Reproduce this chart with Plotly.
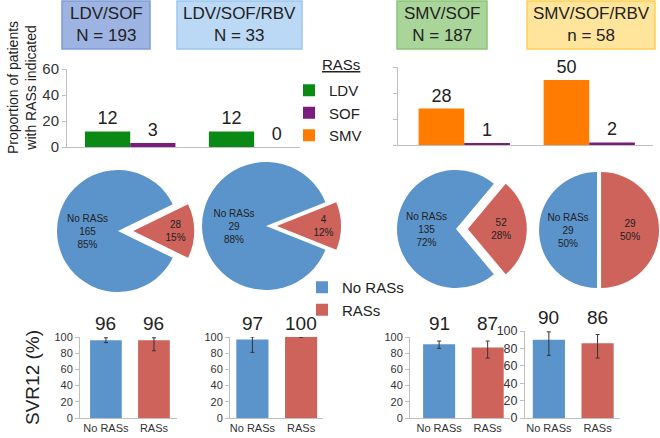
import plotly.graph_objects as go

# ---------------- data ----------------
regimens_ldv = ["LDV/SOF", "LDV/SOF/RBV"]
ldv_ras_pct = [12, 12]
sof_ras_pct_ldv = [3, 0]

regimens_smv = ["SMV/SOF", "SMV/SOF/RBV"]
smv_ras_pct = [28, 50]
sof_ras_pct_smv = [1, 2]

header_titles = ["LDV/SOF", "LDV/SOF/RBV", "SMV/SOF", "SMV/SOF/RBV"]
header_n = ["N = 193", "N = 33", "N = 187", "n = 58"]

pie_labels = ["No RASs", "RASs"]
no_ras_n = [165, 29, 135, 29]
ras_n = [28, 4, 52, 29]

svr_cats = ["No RASs", "RASs"]
svr_no_ras = [96, 97, 91, 90]
svr_ras = [96, 100, 87, 86]
svr_no_ras_lo = [93, 81, 86, 72]
svr_no_ras_hi = [99, 100, 95, 99]
svr_ras_lo = [83, 100, 74, 69]
svr_ras_hi = [99, 100, 95, 96]

# ---------------- styles / layout helpers ----------------
W, H = 660, 438
def fx(p): return p / W
def fy(p): return 1 - p / H

GREEN = "#0A8A14"
PURPLE = "#7B1B80"
ORANGE = "#FF7C00"
BLUE = "#5B93CB"
RED = "#CD635B"
AXIS = "#BFBFBF"
TXT = "#222222"
FONT = "Liberation Sans, Arial, sans-serif"

fig = go.Figure()

# top bar charts
fig.add_bar(x=regimens_ldv, y=ldv_ras_pct, name="LDV", marker_color=GREEN,
            text=ldv_ras_pct, textposition="outside", xaxis="x", yaxis="y")
fig.add_bar(x=regimens_ldv, y=sof_ras_pct_ldv, name="SOF", marker_color=PURPLE,
            text=sof_ras_pct_ldv, textposition="outside", xaxis="x", yaxis="y")
fig.add_bar(x=regimens_smv, y=smv_ras_pct, name="SMV", marker_color=ORANGE,
            text=smv_ras_pct, textposition="outside", xaxis="x2", yaxis="y2")
fig.add_bar(x=regimens_smv, y=sof_ras_pct_smv, name="SOF", marker_color=PURPLE,
            text=sof_ras_pct_smv, textposition="outside", showlegend=False,
            xaxis="x2", yaxis="y2")
fig.update_traces(selector=dict(type="bar"), textfont=dict(size=18, color=TXT),
                  cliponaxis=False, constraintext="none", marker_line_width=0)

# pies
pie_cx = [118, 266, 456, 597]
pie_cy = [231, 226, 229, 230]
pie_r = [61, 64, 59, 58]
pie_pull = [0.25, 0.17, 0.20, 0.07]
for i in range(4):
    tot = no_ras_n[i] + ras_n[i]
    frac = ras_n[i] / tot
    p_no = round(100 * no_ras_n[i] / tot)
    p_r = round(100 * ras_n[i] / tot)
    half = pie_r[i] * (1 + pie_pull[i])
    fig.add_pie(
        labels=pie_labels, values=[no_ras_n[i], ras_n[i]],
        text=[f"No RASs<br>{no_ras_n[i]}<br>{p_no}%", f"{ras_n[i]}<br>{p_r}%"],
        textinfo="text", textposition="inside", insidetextorientation="horizontal",
        insidetextfont=dict(size=10, color=TXT),
        sort=False, direction="clockwise", rotation=90 + 180 * frac,
        pull=[0, pie_pull[i]],
        marker=dict(colors=[BLUE, RED], line=dict(width=0)),
        domain=dict(x=[fx(pie_cx[i] - half), fx(pie_cx[i] + half)],
                    y=[fy(pie_cy[i] + half), fy(pie_cy[i] - half)]),
        legend="legend2", hoverinfo="label+value+percent",
    )

# SVR12 bar charts
svr_x = [(80, 177), (230, 323), (410, 510), (525, 620)]
svr_y = [(337, 418), (337, 418), (337, 418), (331, 418)]
svr_tick = [11, 11, 11, 12.5]
annotations = []
for i in range(4):
    vals = [svr_no_ras[i], svr_ras[i]]
    hi = [svr_no_ras_hi[i], svr_ras_hi[i]]
    lo = [svr_no_ras_lo[i], svr_ras_lo[i]]
    ax = i + 3
    fig.add_bar(
        x=svr_cats, y=vals, width=0.66, marker_color=[BLUE, RED], marker_line_width=0,
        error_y=dict(type="data", array=[h - v for h, v in zip(hi, vals)],
                     arrayminus=[v - l for v, l in zip(vals, lo)],
                     color="#333333", thickness=1, width=2),
        xaxis=f"x{ax}", yaxis=f"y{ax}", showlegend=False,
    )
    for c, v in zip(svr_cats, vals):
        annotations.append(dict(x=c, y=100, xref=f"x{ax}", yref=f"y{ax}", text=str(v),
                                showarrow=False, xanchor="center", yanchor="bottom",
                                yshift=1, font=dict(size=19, color=TXT)))

# header boxes
hdr_x = [(62, 150), (177, 302), (397, 487), (527, 655)]
hdr_fill = ["#9DB3E1", "#BBD8F4", "#A9D49A", "#FFE49C"]
hdr_line = ["#7F9DD6", "#9CC6EE", "#8CC47A", "#FFCF55"]
shapes = []
for i in range(4):
    x0, x1 = hdr_x[i]
    shapes.append(dict(type="rect", xref="paper", yref="paper",
                       x0=fx(x0), x1=fx(x1), y0=fy(49), y1=fy(1),
                       fillcolor=hdr_fill[i], line=dict(color=hdr_line[i], width=1.5),
                       layer="below"))
    annotations.append(dict(x=fx((x0 + x1) / 2), y=fy(25), xref="paper", yref="paper",
                            text=f"{header_titles[i]}<br>{header_n[i]}", showarrow=False,
                            xanchor="center", yanchor="middle",
                            font=dict(size=17, color=TXT), align="center"))

# titles
annotations.append(dict(x=fx(22), y=fy(88), xref="paper", yref="paper",
                        text="Proportion of patients<br>with RASs indicated",
                        xanchor="center", yanchor="middle",
                        textangle=-90, showarrow=False, font=dict(size=14, color=TXT)))
annotations.append(dict(x=fx(32), y=fy(378), xref="paper", yref="paper",
                        text="SVR12 (%)", textangle=-90, showarrow=False,
                        xanchor="center", yanchor="middle",
                        font=dict(size=19, color=TXT)))
annotations.append(dict(x=fx(341), y=fy(64), xref="paper", yref="paper",
                        text="<u>RASs</u>", showarrow=False, xanchor="center",
                        yanchor="middle", font=dict(size=15, color=TXT)))

base_axis = dict(showline=True, linecolor=AXIS, linewidth=1, showgrid=False,
                 zeroline=False, fixedrange=True, automargin=False)

layout = dict(
    template="none",
    width=W, height=H, margin=dict(l=0, r=0, t=0, b=0, pad=0, autoexpand=False),
    paper_bgcolor="white", plot_bgcolor="white",
    font=dict(family=FONT, color=TXT),
    barmode="group", bargap=0.27, bargroupgap=0,
    shapes=shapes, annotations=annotations,
    legend=dict(x=fx(289), y=fy(74), xanchor="left", yanchor="top",
                font=dict(size=15, color=TXT), itemwidth=30, tracegroupgap=0,
                bgcolor="rgba(0,0,0,0)", borderwidth=0),
    legend2=dict(x=fx(302), y=fy(271), xanchor="left", yanchor="top",
                 font=dict(size=15, color=TXT), itemwidth=30,
                 bgcolor="rgba(0,0,0,0)", borderwidth=0),
    xaxis=dict(base_axis, domain=[fx(67), fx(300)], anchor="y", showticklabels=False,
               ticks="", range=[-0.51, 1.37]),
    yaxis=dict(base_axis, domain=[fy(147), fy(69)], anchor="x", range=[0, 60],
               tickvals=[0, 20, 40, 60], ticks="outside", ticklen=4, tickcolor=AXIS,
               tickfont=dict(size=15, color="#333333")),
    xaxis2=dict(base_axis, domain=[fx(398), fx(653)], anchor="y2", showticklabels=False,
                ticks="", range=[-0.53, 1.51]),
    yaxis2=dict(base_axis, domain=[fy(145), fy(67)], anchor="x2", range=[0, 60],
                tickvals=[0, 20, 40, 60], ticks="outside", ticklen=4, tickcolor=AXIS,
                showticklabels=False),
)
svr_ranges = [(-0.54, 1.48), (-0.46, 1.45), (-0.6, 1.46), (-0.49, 1.46)]
for i in range(4):
    ax = i + 3
    layout[f"xaxis{ax}"] = dict(base_axis, domain=[fx(svr_x[i][0]), fx(svr_x[i][1])],
                                anchor=f"y{ax}", ticks="", range=list(svr_ranges[i]),
                                tickfont=dict(size=11, color="#333333"))
    layout[f"yaxis{ax}"] = dict(base_axis, domain=[fy(svr_y[i][1]), fy(svr_y[i][0])],
                                anchor=f"x{ax}", range=[0, 100], dtick=20,
                                ticks="outside", ticklen=4, tickcolor=AXIS,
                                tickfont=dict(size=svr_tick[i], color="#333333"))

fig.update_layout(**layout)
fig.write_html("out.html", config={"displayModeBar": False},
               post_script="document.body.style.margin='0';document.body.style.overflow='hidden';")
